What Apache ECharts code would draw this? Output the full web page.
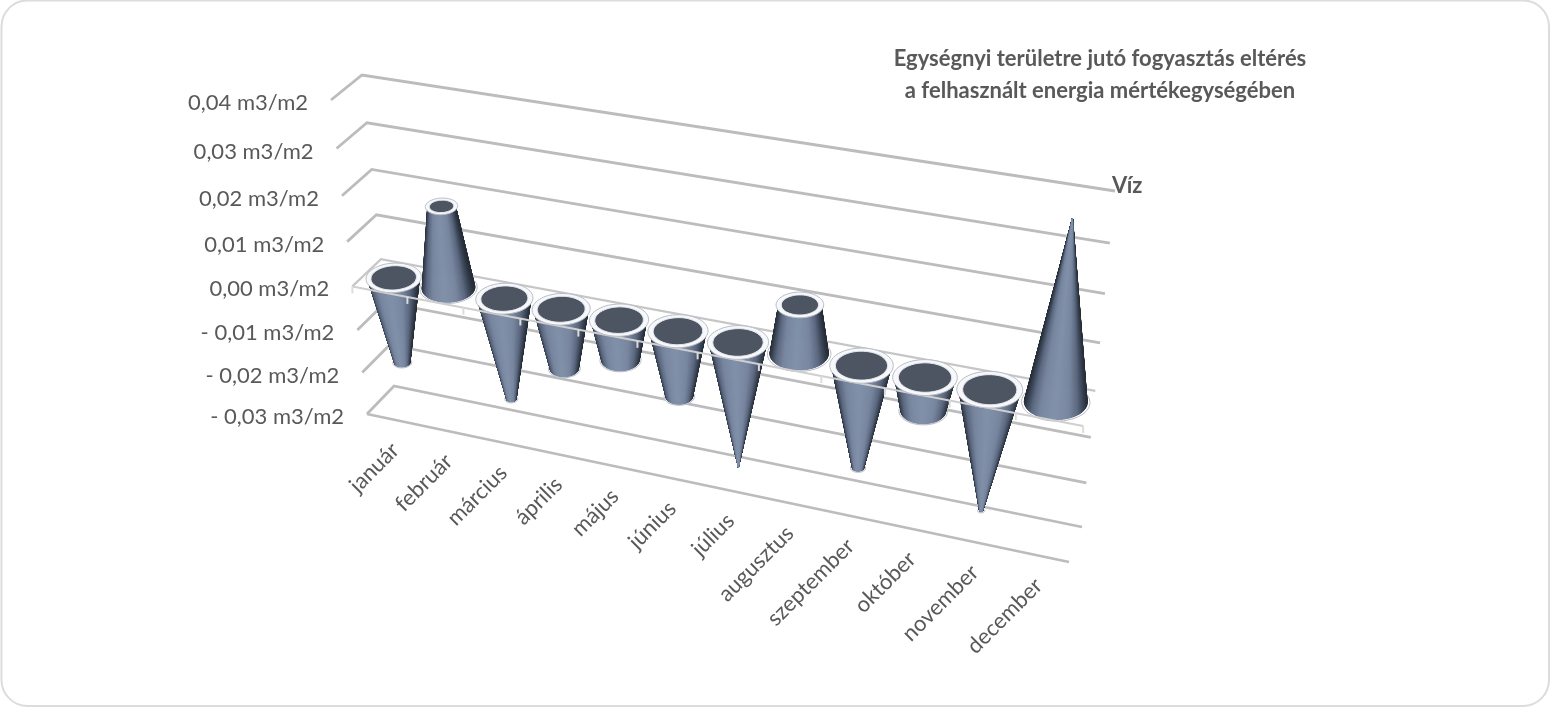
<!DOCTYPE html>
<html><head><meta charset="utf-8">
<style>html,body{margin:0;padding:0;background:#fff}#c{width:1551px;height:708px}</style>
<script src="https://cdn.jsdelivr.net/npm/echarts@6/dist/echarts.min.js"></script>
</head><body><div id="c"></div>
<script>
const categories = ['január','február','március','április','május','június','július','augusztus','szeptember','október','november','december'];
const waterValues = [-0.0197,0.018,-0.0232,-0.0135,-0.009,-0.0147,-0.0283,0.0105,-0.0228,-0.0073,-0.0268,0.037];
const yTicks = [0.04,0.03,0.02,0.01,0,-0.01,-0.02,-0.03];
const yTickLabels = ['0,04 m3/m2','0,03 m3/m2','0,02 m3/m2','0,01 m3/m2','0,00 m3/m2','- 0,01 m3/m2','- 0,02 m3/m2','- 0,03 m3/m2'];
const titleText = 'Egységnyi területre jutó fogyasztás eltérés\na felhasznált energia mértékegységében';
const seriesName = 'Víz';

// The perspective of the box: wall corners TL, TR, BR, BL
const backWall  = [[362,75],[1115,191],[1082,527],[394,386]];
const frontWall = [[331,100],[1104,225],[1069,562],[367,414]];
const FONT = 'Lato, "Open Sans", sans-serif';
const TXT = '#595959';

function homography(q){
  const [p0,p1,p2,p3]=q;
  const dx1=p1[0]-p2[0],dx2=p3[0]-p2[0],sx=p0[0]-p1[0]+p2[0]-p3[0];
  const dy1=p1[1]-p2[1],dy2=p3[1]-p2[1],sy=p0[1]-p1[1]+p2[1]-p3[1];
  const den=dx1*dy2-dx2*dy1;
  const g=(sx*dy2-dx2*sy)/den,h=(dx1*sy-sx*dy1)/den;
  const a=p1[0]-p0[0]+g*p1[0],b=p3[0]-p0[0]+h*p3[0],c=p0[0];
  const d=p1[1]-p0[1]+g*p1[1],e=p3[1]-p0[1]+h*p3[1],f=p0[1];
  return (u,t)=>{const z=g*u+h*t+1;return [(a*u+b*t+c)/z,(d*u+e*t+f)/z];};
}
const Hb=homography(backWall),Hf=homography(frontWall);
function proj(cs,gx,gy,w){
  const u=(gx-cs.x)/cs.width,t=(gy-cs.y)/cs.height;
  const b=Hb(u,t),f=Hf(u,t);
  return [b[0]+(f[0]-b[0])*w,b[1]+(f[1]-b[1])*w];
}
const vMax=Math.max(...waterValues),vMin=Math.min(...waterValues);
const taper=v=>v>=0?1-v/vMax:1-v/vMin;
const RW=0.5;
// a point on the circular section of a cone at grid height g
function ringPt(cs,gx,g,R,sc,ang){
  const c=proj(cs,gx,g,0.5),ax=proj(cs,gx+R,g,0.5),bx=proj(cs,gx,g,0.5+RW);
  const co=Math.cos(ang)*sc,si=Math.sin(ang)*sc;
  return [c[0]+co*(ax[0]-c[0])*1.17+si*(bx[0]-c[0])*0.3, c[1]+co*(ax[1]-c[1])*0.3+si*(bx[1]-c[1])];
}
function ring(cs,gx,g,R,sc){
  const pts=[];
  for(let k=0;k<64;k++) pts.push(ringPt(cs,gx,g,R,sc,k/64*2*Math.PI));
  return pts;
}
function shade(s){
  const stops=[[0,[130,145,170]],[0.45,[120,134,160]],[0.72,[92,105,128]],[0.88,[60,71,88]],[1,[38,45,56]]];
  s=Math.min(1,Math.abs(s));
  for(let i=1;i<stops.length;i++){ if(s<=stops[i][0]){
    const k=(s-stops[i-1][0])/(stops[i][0]-stops[i-1][0]);
    const c=stops[i-1][1].map((v,j)=>Math.round(v+(stops[i][1][j]-v)*k));
    return `rgb(${c[0]},${c[1]},${c[2]})`; } }
  return 'rgb(38,45,56)';
}
const RIM='#b9bdc4', INNER='#4d5562';

function renderWalls(params,api){
  const cs=params.coordSys, v=api.value(1), i=params.dataIndex;
  const y=api.coord([0,v])[1], xl=cs.x, xr=cs.x+cs.width;
  const a=proj(cs,xl,y,1),b=proj(cs,xl,y,0),c=proj(cs,xr,y,0);
  const zero=v===0;
  const line=zero?'#c6c6c6':'#bcbcbc';
  const kids=[{type:'polyline',shape:{points:[a,b,c]},style:{fill:'none',stroke:line,lineWidth:zero?2.2:2.8}}];
  if(i===yTicks.length-1){
    kids.push({type:'polyline',shape:{points:[a,proj(cs,xr,y,1)]},style:{fill:'none',stroke:line,lineWidth:2.8}});
  }
  kids.push({type:'text',x:a[0]-23,y:a[1]+3,style:{text:yTickLabels[i],fill:TXT,font:'22px '+FONT,align:'right',verticalAlign:'middle'}});
  return {type:'group',children:kids};
}
function renderCone(params,api){
  const cs=params.coordSys,i=api.value(0),v=api.value(1);
  const p=api.coord([i,v]),p0=api.coord([i,0]);
  const R=api.size([1,0])[0]*0.4;
  const gx=p0[0],f=taper(v);
  const kids=[];
  // ring seen under the far end of the cone
  if(v>=0){
    kids.push({type:'polygon',shape:{points:ring(cs,gx,p0[1],R,1.09)},style:{fill:'#fff',stroke:RIM,lineWidth:1}});
  }else if(f>0.01){
    kids.push({type:'polygon',shape:{points:ring(cs,gx,p[1],R,f+0.07)},style:{fill:'#eceef1',stroke:RIM,lineWidth:1}});
  }
  // side surface as strips, back to front
  const N=120,strips=[];
  for(let k=0;k<N;k++){
    const a0=k/N*2*Math.PI,a1=(k+1)/N*2*Math.PI,am=(a0+a1)/2;
    strips.push({o:Math.sin(am),c:Math.cos(am),pts:[ringPt(cs,gx,p0[1],R,1,a0),ringPt(cs,gx,p0[1],R,1,a1),ringPt(cs,gx,p[1],R,f,a1),ringPt(cs,gx,p[1],R,f,a0)]});
  }
  strips.sort((x,y)=>x.o-y.o).forEach(s=>{
    const col=shade(s.c);
    kids.push({type:'polygon',shape:{points:s.pts},style:{fill:col,stroke:col,lineWidth:1}});
  });
  return {type:'group',children:kids};
}
function renderFrontAxis(params,api){
  const cs=params.coordSys,y=api.coord([0,0])[1],kids=[];
  const a=proj(cs,cs.x,y,1),b=proj(cs,cs.x+cs.width,y,1);
  kids.push({type:'line',shape:{x1:a[0],y1:a[1],x2:b[0],y2:b[1]},style:{stroke:'#cfcfcf',lineWidth:2}});
  for(let k=0;k<=categories.length;k++){
    const q=proj(cs,cs.x+cs.width*k/categories.length,y,1);
    kids.push({type:'line',shape:{x1:q[0],y1:q[1],x2:q[0],y2:q[1]+7},style:{stroke:'#dcdcdc',lineWidth:2}});
  }
  return {type:'group',children:kids};
}
function renderRim(params,api){
  const cs=params.coordSys,i=api.value(0),v=api.value(1);
  const p=api.coord([i,v]),p0=api.coord([i,0]);
  const R=api.size([1,0])[0]*0.4,gx=p0[0];
  const g=v>=0?p[1]:p0[1], sc=v>=0?taper(v):1;
  if(sc<0.01) return {type:'group',children:[]};
  const pad=v>=0?0.09:0.07;
  return {type:'group',children:[
    {type:'polygon',shape:{points:ring(cs,gx,g,R,sc+pad)},style:{fill:'#f6f8fb',stroke:RIM,lineWidth:1}},
    {type:'polygon',shape:{points:ring(cs,gx,g,R,sc*0.88)},style:{fill:INNER,stroke:'#e9edf3',lineWidth:1}}
  ]};
}
function renderMonth(params,api){
  const cs=params.coordSys,i=api.value(0);
  const yb=api.coord([0,yTicks[yTicks.length-1]])[1];
  const q=proj(cs,api.coord([i,0])[0],yb,1);
  return {type:'text',x:q[0]+2,y:q[1]+27,rotation:Math.PI/4,
    style:{text:categories[i],fill:TXT,font:'22px '+FONT,align:'right',verticalAlign:'middle'}};
}
const valueData=waterValues.map((v,i)=>[i,v]);
const chart=echarts.init(document.getElementById('c'));
chart.setOption({
  animation:false,
  backgroundColor:'#fff',
  title:[
    {text:titleText,left:1095,top:38,textAlign:'center',textStyle:{fontFamily:FONT,fontWeight:'bold',fontSize:22,lineHeight:32,color:TXT}},
    {text:seriesName,left:1107,top:170,textStyle:{fontFamily:FONT,fontWeight:'bold',fontSize:22,color:TXT}}
  ],
  grid:{left:0,right:0,top:0,bottom:0},
  xAxis:{type:'category',data:categories,show:false,boundaryGap:true},
  yAxis:{type:'value',min:-0.03,max:0.04,interval:0.01,show:false},
  graphic:[{type:'rect',shape:{x:1.5,y:0.5,width:1547.5,height:705.5,r:26},style:{fill:'none',stroke:'#dcdcdc',lineWidth:2},silent:true,z:0}],
  series:[
    {type:'custom',name:'walls',coordinateSystem:'cartesian2d',z:2,silent:true,data:yTicks.map(v=>[0,v]),renderItem:renderWalls},
    {type:'custom',name:seriesName,coordinateSystem:'cartesian2d',z:3,silent:true,data:valueData,renderItem:renderCone},
    {type:'custom',name:'front',coordinateSystem:'cartesian2d',z:4,silent:true,data:[[0,0]],renderItem:renderFrontAxis},
    {type:'custom',name:'rims',coordinateSystem:'cartesian2d',z:5,silent:true,data:valueData,renderItem:renderRim},
    {type:'custom',name:'months',coordinateSystem:'cartesian2d',z:6,silent:true,data:valueData,renderItem:renderMonth}
  ]
});
</script></body></html>
